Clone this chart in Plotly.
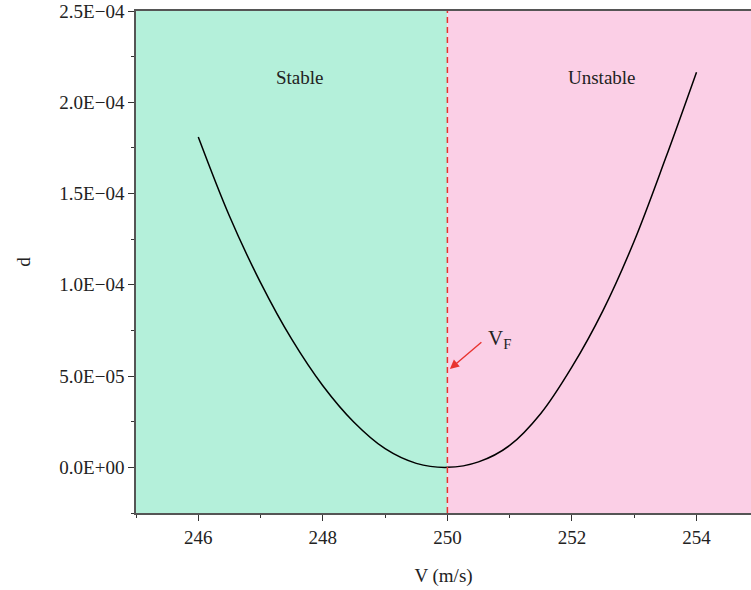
import plotly.graph_objects as go

# Data
V = [246.0, 246.5, 247.0, 247.5, 248.0, 248.5, 249.0, 249.5, 250.0,
     250.5, 251.0, 251.5, 252.0, 252.5, 253.0, 253.5, 254.0]
d = [1.81e-4, 1.377e-4, 1.012e-4, 7.02e-5, 4.47e-5, 2.47e-5, 1.02e-5, 2.2e-6, 0.0,
     3.0e-6, 1.2e-5, 2.95e-5, 5.5e-5, 8.6e-5, 1.24e-4, 1.69e-4, 2.165e-4]

x_ticks = [246, 248, 250, 252, 254]
x_ticklabels = ["246", "248", "250", "252", "254"]
y_ticks = [0.0, 5e-5, 1e-4, 1.5e-4, 2e-4, 2.5e-4]
y_ticklabels = ["0.0E+00", "5.0E\u221205", "1.0E\u221204", "1.5E\u221204", "2.0E\u221204", "2.5E\u221204"]

V_F = 250.0
x_range = [245, 254.875]
y_range = [-2.5e-5, 2.5e-4]

FONT = "Liberation Serif"
FS = 19
fig = go.Figure()

fig.add_trace(go.Scatter(x=V, y=d, mode="lines", line=dict(color="black", width=1.5, shape="spline", smoothing=1.0),
                         showlegend=False, hoverinfo="skip"))

# Background regions
fig.add_shape(type="rect", xref="x", yref="paper", x0=245, x1=V_F, y0=0, y1=1,
              fillcolor="#b4f0da", line_width=0, layer="below")
fig.add_shape(type="rect", xref="x", yref="paper", x0=V_F, x1=256, y0=0, y1=1,
              fillcolor="#fbcfe6", line_width=0, layer="below")
# Dashed V_F line
fig.add_shape(type="line", xref="x", yref="paper", x0=V_F, x1=V_F, y0=0, y1=1,
              line=dict(color="#e8332f", width=1.5, dash="6px,4px"))

fig.add_annotation(x=247.63, y=2.134e-4, text="Stable", showarrow=False,
                   font=dict(family=FONT, size=FS, color="#222"))
fig.add_annotation(x=252.48, y=2.134e-4, text="Unstable", showarrow=False,
                   font=dict(family=FONT, size=FS, color="#222"))
fig.add_annotation(x=250.04, y=5.39e-5, ax=33, ay=-28, text="", showarrow=True,
                   arrowhead=2, arrowsize=1.3, arrowwidth=1.4, arrowcolor="#e8332f")
fig.add_annotation(x=250.83, y=7.05e-5, text="V<sub>F</sub>", showarrow=False,
                   font=dict(family=FONT, size=21, color="#222"))

axis_common = dict(showgrid=False, zeroline=False, showline=True, linecolor="#555",
                   linewidth=1.5, ticks="outside", ticklen=6, tickwidth=1.2, tickcolor="#333",
                   tickfont=dict(family=FONT, size=FS, color="#222"))
fig.update_xaxes(range=x_range, tickvals=x_ticks, ticktext=x_ticklabels, mirror=True,
                 minor=dict(ticks="outside", ticklen=3, tickwidth=1.2, tickcolor="#333", dtick=1, tick0=245),
                 title=dict(text="V (m/s)", font=dict(family=FONT, size=FS, color="#222"), standoff=22),
                 **axis_common)
fig.update_yaxes(range=y_range, tickvals=y_ticks, ticktext=y_ticklabels,
                 minor=dict(ticks="outside", ticklen=3, tickwidth=1.2, tickcolor="#333", dtick=2.5e-5, tick0=0),
                 title=dict(text="d", font=dict(family=FONT, size=FS, color="#222"), standoff=24),
                 **axis_common)

fig.update_layout(width=751, height=590, margin=dict(l=136, r=0, t=11, b=77),
                  plot_bgcolor="white", paper_bgcolor="white")

fig.write_html("out.html")
